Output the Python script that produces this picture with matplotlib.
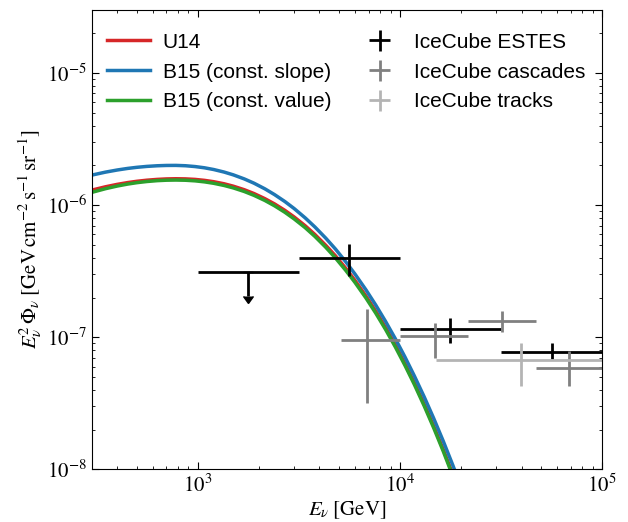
"""Galactic-plane neutrino flux models against IceCube spectral measurements.

Draws E^2 Phi for three model variants (U14 and two B15 variants) together
with the binned IceCube ESTES, cascade and track flux points.
"""

import matplotlib

matplotlib.use("Agg")
import matplotlib.pyplot as plt  # noqa: E402
import numpy as np  # noqa: E402

# ----------------------------------------------------------------------------
# Model curves: energy [GeV] and E^2 Phi [GeV cm^-2 s^-1 sr^-1]
# ----------------------------------------------------------------------------
E_GRID = [300, 350, 400, 450, 500, 560, 630, 700, 780, 870, 970, 1080, 1200,
          1350, 1500, 1700, 1900, 2150, 2400, 2700, 3000, 3400, 3800, 4300,
          4800, 5400, 6000, 6800, 7600, 8500, 9500, 10600, 11800, 13200,
          14700, 16400, 18300, 20000]

F_U14 = [1.301e-6, 1.378e-6, 1.437e-6, 1.482e-6, 1.516e-6, 1.545e-6, 1.567e-6,
         1.580e-6, 1.585e-6, 1.581e-6, 1.567e-6, 1.541e-6, 1.505e-6, 1.452e-6,
         1.392e-6, 1.309e-6, 1.224e-6, 1.120e-6, 1.022e-6, 9.13e-7, 8.14e-7,
         6.99e-7, 6.00e-7, 4.97e-7, 4.14e-7, 3.33e-7, 2.695e-7, 2.052e-7,
         1.577e-7, 1.186e-7, 8.74e-8, 6.34e-8, 4.53e-8, 3.12e-8, 2.133e-8,
         1.416e-8, 9.15e-9, 6.4e-9]

F_B15_SLOPE = [1.690e-6, 1.779e-6, 1.846e-6, 1.897e-6, 1.934e-6, 1.965e-6,
               1.987e-6, 1.998e-6, 2.000e-6, 1.988e-6, 1.960e-6, 1.918e-6,
               1.861e-6, 1.781e-6, 1.696e-6, 1.580e-6, 1.466e-6, 1.329e-6,
               1.202e-6, 1.065e-6, 9.43e-7, 8.02e-7, 6.84e-7, 5.63e-7, 4.66e-7,
               3.73e-7, 3.01e-7, 2.285e-7, 1.754e-7, 1.319e-7, 9.75e-8, 7.10e-8,
               5.10e-8, 3.54e-8, 2.44e-8, 1.637e-8, 1.073e-8, 7.50e-9]

F_B15_VALUE = [1.251e-6, 1.333e-6, 1.396e-6, 1.444e-6, 1.480e-6, 1.510e-6,
               1.533e-6, 1.545e-6, 1.549e-6, 1.544e-6, 1.528e-6, 1.501e-6,
               1.464e-6, 1.410e-6, 1.351e-6, 1.269e-6, 1.186e-6, 1.085e-6,
               9.89e-7, 8.83e-7, 7.87e-7, 6.76e-7, 5.80e-7, 4.80e-7, 3.99e-7,
               3.21e-7, 2.60e-7, 1.982e-7, 1.523e-7, 1.146e-7, 8.45e-8, 6.13e-8,
               4.39e-8, 3.02e-8, 2.065e-8, 1.371e-8, 8.87e-9, 6.2e-9]

# ----------------------------------------------------------------------------
# IceCube flux points: bin centre, bin edges, value and 1-sigma range
# ----------------------------------------------------------------------------
ESTES_E = [5.63e3, 1.78e4, 5.65e4]
ESTES_ELO = [3.16e3, 1.0e4, 3.16e4]
ESTES_EHI = [1.0e4, 3.16e4, 1.0e5]
ESTES_F = [4.0e-7, 1.16e-7, 7.78e-8]
ESTES_FLO = [2.92e-7, 9.1e-8, 6.82e-8]
ESTES_FHI = [5.05e-7, 1.40e-7, 9.1e-8]

# lowest ESTES bin is an upper limit
ESTES_UL_E = [1.78e3]
ESTES_UL_ELO = [1.0e3]
ESTES_UL_EHI = [3.16e3]
ESTES_UL_F = [3.12e-7]
ESTES_UL_ARROW = [1.05e-7]

CASC_E = [6.9e3, 1.49e4, 3.19e4, 6.86e4]
CASC_ELO = [5.1e3, 1.0e4, 2.18e4, 4.72e4]
CASC_EHI = [1.0e4, 2.17e4, 4.7e4, 1.0e5]
CASC_F = [9.5e-8, 1.02e-7, 1.33e-7, 5.83e-8]
CASC_FLO = [3.2e-8, 6.93e-8, 1.10e-7, 4.29e-8]
CASC_FHI = [1.64e-7, 1.28e-7, 1.59e-7, 7.88e-8]

TRACK_E = [3.99e4]
TRACK_ELO = [1.51e4]
TRACK_EHI = [1.05e5]
TRACK_F = [6.7e-8]
TRACK_FLO = [4.29e-8]
TRACK_FHI = [9.0e-8]


def asym(centre, lo, hi):
    centre, lo, hi = np.asarray(centre), np.asarray(lo), np.asarray(hi)
    return [centre - lo, hi - centre]


plt.rcParams["mathtext.fontset"] = "stix"
plt.rcParams["font.family"] = "STIXGeneral"

fig = plt.figure(figsize=(6.28, 5.22), dpi=100)
ax = fig.add_axes([0.1465, 0.1006, 0.8121, 0.8803])

# ----------------------------------------------------------------------------
# Curves
# ----------------------------------------------------------------------------
ax.plot(E_GRID, F_U14, color="tab:red", lw=2.5, label="U14")
ax.plot(E_GRID, F_B15_SLOPE, color="tab:blue", lw=2.5, label="B15 (const. slope)")
ax.plot(E_GRID, F_B15_VALUE, color="tab:green", lw=2.5, label="B15 (const. value)")

# ----------------------------------------------------------------------------
# Data points
# ----------------------------------------------------------------------------
ax.errorbar(ESTES_E, ESTES_F, xerr=asym(ESTES_E, ESTES_ELO, ESTES_EHI),
            yerr=asym(ESTES_F, ESTES_FLO, ESTES_FHI), fmt="none",
            ecolor="black", elinewidth=2, capsize=0, label="IceCube ESTES")
ax.errorbar(ESTES_UL_E, ESTES_UL_F, xerr=asym(ESTES_UL_E, ESTES_UL_ELO, ESTES_UL_EHI),
            fmt="none", ecolor="black", elinewidth=2, capsize=0)
ax.errorbar(ESTES_UL_E, ESTES_UL_F, yerr=[ESTES_UL_ARROW, [0.0]], uplims=True,
            fmt="none", color="black", ecolor="black", mfc="black", mec="black",
            elinewidth=2, capsize=3.5)
ax.errorbar(CASC_E, CASC_F, xerr=asym(CASC_E, CASC_ELO, CASC_EHI),
            yerr=asym(CASC_F, CASC_FLO, CASC_FHI), fmt="none",
            ecolor="#808080", elinewidth=2, capsize=0, label="IceCube cascades")
ax.errorbar(TRACK_E, TRACK_F, xerr=asym(TRACK_E, TRACK_ELO, TRACK_EHI),
            yerr=asym(TRACK_F, TRACK_FLO, TRACK_FHI), fmt="none",
            ecolor="#b4b4b4", elinewidth=2, capsize=0, label="IceCube tracks")

ax.set_xscale("log")
ax.set_yscale("log")
ax.set_xlim(300, 1e5)
ax.set_ylim(1e-8, 3e-5)
ax.tick_params(which="both", direction="in", top=True, right=True, labelsize=15)
ax.tick_params(which="major", length=5)
ax.tick_params(which="minor", length=2.5)

ax.set_xlabel(r"$E_\nu\;[\mathrm{GeV}]$", fontsize=15, labelpad=2)
ax.set_ylabel(r"$E_\nu^2\,\Phi_\nu\;[\mathrm{GeV\,cm^{-2}\,s^{-1}\,sr^{-1}}]$",
              fontsize=15, labelpad=2)

ax.legend(loc="upper left", bbox_to_anchor=(0.0, 0.983), ncol=2, frameon=False,
          prop={"family": "Liberation Sans", "size": 15}, handlelength=2.05,
          handletextpad=0.62, columnspacing=1.3, labelspacing=0.52,
          borderaxespad=0.32)

fig.savefig("out.png", dpi=100)
